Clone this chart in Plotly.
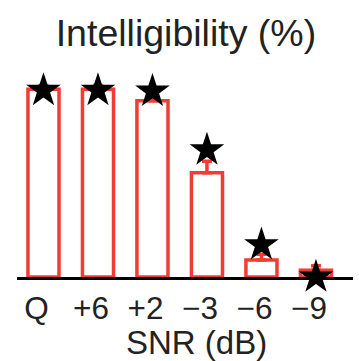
import plotly.graph_objects as go

categories = ["Q", "+6", "+2", "\u22123", "\u22126", "\u22129"]
intelligibility = [99, 99, 93, 55, 9, 3.5]
error_up = [2, 2, 3, 6, 3, 2.5]
model_pred = [98.4, 98.4, 98, 67, 17, 0]

RED = "rgb(240,60,50)"
FONT = "Liberation Sans, Arial, sans-serif"

x = list(range(len(categories)))

fig = go.Figure()
fig.add_trace(go.Bar(
    x=x, y=intelligibility, width=0.57,
    marker=dict(color="white", line=dict(color=RED, width=3.5)),
    error_y=dict(type="data", array=error_up, arrayminus=[0]*len(x), symmetric=False,
                 color=RED, thickness=3.5, width=5),
    cliponaxis=False,
))
fig.add_trace(go.Scatter(
    x=x, y=model_pred, mode="markers",
    marker=dict(symbol="star", size=26, color="black", line=dict(width=0)),
    cliponaxis=False,
))

fig.update_layout(
    width=359, height=361,
    margin=dict(l=17, r=6, t=58.5, b=84),
    paper_bgcolor="white", plot_bgcolor="white",
    showlegend=False,
    font=dict(family=FONT, color="#222"),
    title=dict(text="Intelligibility (%)", x=0.518, xanchor="center",
               y=1 - 33/361, yanchor="middle", yref="container",
               font=dict(size=37.5, family=FONT, color="#222")),
    xaxis=dict(range=[-0.486, 5.68], tickmode="array", tickvals=x, ticktext=categories,
               showline=True, linecolor="black", linewidth=3, ticks="",
               showgrid=False, zeroline=False, tickfont=dict(size=31.5, family=FONT, color="#222"),
               ticklabelshift=-7, ticklabelstandoff=1),
    yaxis=dict(range=[0, 115], visible=False, showgrid=False, zeroline=False),
    annotations=[dict(text="SNR (dB)", xref="paper", yref="paper", x=0.533, y=0,
                      yshift=-45, xanchor="center", yanchor="top", showarrow=False,
                      font=dict(size=33, family=FONT, color="#222"))],
)

fig.write_html("out.html")
